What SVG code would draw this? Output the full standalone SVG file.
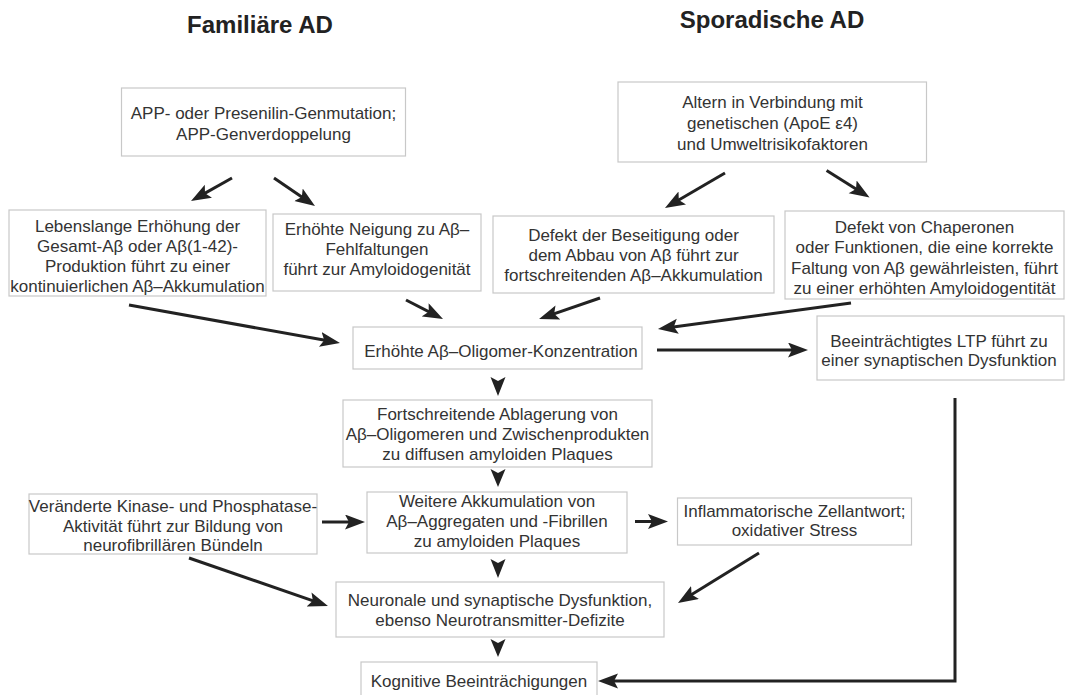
<svg xmlns="http://www.w3.org/2000/svg" width="1067" height="695" viewBox="0 0 1067 695">
<defs>
<style>
.box{fill:#fff;stroke:#c8c8c8;stroke-width:1.2}
.t{font-family:"Liberation Sans",Arial,sans-serif;font-size:17px;fill:#333;text-anchor:middle}
.h{font-family:"Liberation Sans",Arial,sans-serif;font-size:24px;font-weight:bold;fill:#222;text-anchor:middle}
.c{fill:none;stroke:#222;stroke-width:3;marker-end:url(#ah)}
.d{fill:#222}
</style>
<marker id="ah" markerUnits="userSpaceOnUse" markerWidth="22" markerHeight="16" refX="12" refY="7.5" orient="auto">
<path d="M0,0 L20,7.5 L0,15 L4,7.5 Z" fill="#222"/>
</marker>
</defs>
<rect width="1067" height="695" fill="#fff"/>

<g id="title-familiaer"><text class="h" x="260" y="33">Familiäre AD</text></g>
<g id="title-sporadisch"><text class="h" x="772" y="28">Sporadische AD</text></g>

<g id="connectors">
<line class="c" x1="232" y1="178" x2="198" y2="197.1"/>
<line class="c" x1="274" y1="178" x2="308.4" y2="201.5"/>
<line class="c" x1="725" y1="173" x2="671.9" y2="204"/>
<line class="c" x1="826.6" y1="170.5" x2="862.8" y2="193.2"/>
<line class="c" x1="129" y1="305" x2="332.1" y2="341.6"/>
<line class="c" x1="406" y1="300" x2="435.9" y2="315.3"/>
<line class="c" x1="600" y1="298" x2="546.6" y2="316.4"/>
<line class="c" x1="851" y1="303" x2="665.9" y2="327.9"/>
<line class="c" x1="657" y1="350" x2="800" y2="350"/>
<line class="c" x1="322" y1="522" x2="357" y2="522"/>
<line class="c" x1="635" y1="521.5" x2="660" y2="521.5"/>
<line class="c" x1="189" y1="558" x2="320.4" y2="603.4"/>
<line class="c" x1="759" y1="553" x2="684.8" y2="598.8"/>
<path class="c" d="M955,398 V681 H606"/>
<path class="d" d="M490.5,377 L498,381 L505.5,377 L498,396 Z"/>
<path class="d" d="M490.5,469 L498,473 L505.5,469 L498,487 Z"/>
<path class="d" d="M490.5,559 L498,563 L505.5,559 L498,578 Z"/>
<path class="d" d="M490.5,639 L498,643 L505.5,639 L498,657 Z"/>
</g>

<g id="n-app">
<rect class="box" x="121.5" y="88" width="284" height="68"/>
<text class="t" x="263.5" y="119">APP- oder Presenilin-Genmutation;</text>
<text class="t" x="263.5" y="139.5">APP-Genverdoppelung</text>
</g>

<g id="n-altern">
<rect class="box" x="618" y="82" width="308.5" height="80"/>
<text class="t" x="772.5" y="108">Altern in Verbindung mit</text>
<text class="t" x="772.5" y="129">genetischen (ApoE ε4)</text>
<text class="t" x="772.5" y="150">und Umweltrisikofaktoren</text>
</g>

<g id="n-lebenslang">
<rect class="box" x="9" y="210" width="257" height="86"/>
<text class="t" x="137.5" y="232">Lebenslange Erhöhung der</text>
<text class="t" x="137.5" y="252">Gesamt-Aβ oder Aβ(1-42)-</text>
<text class="t" x="137.5" y="272">Produktion führt zu einer</text>
<text class="t" x="137.5" y="292">kontinuierlichen Aβ–Akkumulation</text>
</g>

<g id="n-neigung">
<rect class="box" x="273" y="214" width="208" height="77"/>
<text class="t" x="377" y="235">Erhöhte Neigung zu Aβ–</text>
<text class="t" x="377" y="255">Fehlfaltungen</text>
<text class="t" x="377" y="275">führt zur Amyloidogenität</text>
</g>

<g id="n-beseitigung">
<rect class="box" x="493" y="216" width="281" height="77"/>
<text class="t" x="633.5" y="241">Defekt der Beseitigung oder</text>
<text class="t" x="633.5" y="261">dem Abbau von Aβ führt zur</text>
<text class="t" x="633.5" y="281">fortschreitenden Aβ–Akkumulation</text>
</g>

<g id="n-chaperone">
<rect class="box" x="785" y="211" width="279" height="88"/>
<text class="t" x="924.5" y="233">Defekt von Chaperonen</text>
<text class="t" x="924.5" y="253">oder Funktionen, die eine korrekte</text>
<text class="t" x="924.5" y="273.5">Faltung von Aβ gewährleisten, führt</text>
<text class="t" x="924.5" y="294">zu einer erhöhten Amyloidogentität</text>
</g>

<g id="n-oligomer">
<rect class="box" x="353" y="327" width="289" height="42"/>
<text class="t" x="501" y="356.5">Erhöhte Aβ–Oligomer-Konzentration</text>
</g>

<g id="n-ltp">
<rect class="box" x="817" y="316" width="247" height="64"/>
<text class="t" x="939" y="346.5">Beeinträchtigtes LTP führt zu</text>
<text class="t" x="939" y="366">einer synaptischen Dysfunktion</text>
</g>

<g id="n-ablagerung">
<rect class="box" x="343" y="400" width="309" height="67"/>
<text class="t" x="497.5" y="420">Fortschreitende Ablagerung von</text>
<text class="t" x="497.5" y="440">Aβ–Oligomeren und Zwischenprodukten</text>
<text class="t" x="497.5" y="460">zu diffusen amyloiden Plaques</text>
</g>

<g id="n-kinase">
<rect class="box" x="29" y="494" width="288" height="60"/>
<text class="t" x="173" y="512">Veränderte Kinase- und Phosphatase-</text>
<text class="t" x="173" y="532">Aktivität führt zur Bildung von</text>
<text class="t" x="173" y="551">neurofibrillären Bündeln</text>
</g>

<g id="n-akkumulation">
<rect class="box" x="367" y="492" width="260" height="61"/>
<text class="t" x="497" y="507">Weitere Akkumulation von</text>
<text class="t" x="497" y="527">Aβ–Aggregaten und -Fibrillen</text>
<text class="t" x="497" y="547">zu amyloiden Plaques</text>
</g>

<g id="n-inflamm">
<rect class="box" x="677.5" y="498" width="234" height="47"/>
<text class="t" x="794.5" y="517">Inflammatorische Zellantwort;</text>
<text class="t" x="794.5" y="536">oxidativer Stress</text>
</g>

<g id="n-neuronal">
<rect class="box" x="336" y="582" width="328" height="55"/>
<text class="t" x="500" y="606">Neuronale und synaptische Dysfunktion,</text>
<text class="t" x="500" y="626">ebenso Neurotransmitter-Defizite</text>
</g>

<g id="n-kognitiv">
<rect class="box" x="361" y="662" width="236" height="40"/>
<text class="t" x="479" y="687">Kognitive Beeinträchigungen</text>
</g>
</svg>
